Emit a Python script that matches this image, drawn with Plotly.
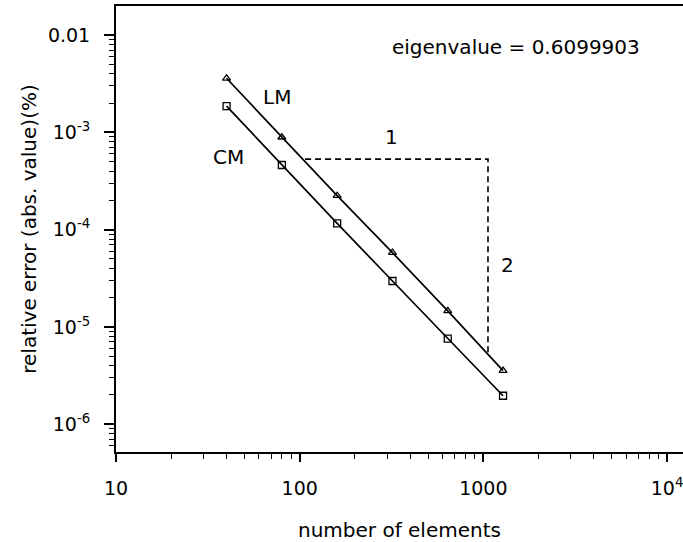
import math
import plotly.graph_objects as go

# Data
n_elements = [40, 80, 160, 320, 640, 1280]
err_lm = [3.59e-3, 8.89e-4, 2.23e-4, 5.79e-5, 1.46e-5, 3.55e-6]
err_cm = [1.86e-3, 4.61e-4, 1.16e-4, 2.96e-5, 7.57e-6, 1.96e-6]

slope_x = [107, 1060, 1060]
slope_y = [5.3e-4, 5.3e-4, 5.3e-6]

x_tickvals = [10, 100, 1000, 10000]
x_ticktext = ["10", "100", "1000", "10<sup>4</sup>"]
y_tickvals = [1e-2, 1e-3, 1e-4, 1e-5, 1e-6]
y_ticktext = ["0.01", "10<sup>-3</sup>", "10<sup>-4</sup>", "10<sup>-5</sup>", "10<sup>-6</sup>"]

# text labels: (text, x value, y value)
label_text = ["eigenvalue = 0.6099903", "LM", "CM", "1", "2"]
label_x = [1503, 75.2, 41.2, 318, 1361]
label_y = [7.53e-3, 2.31e-3, 5.57e-4, 8.95e-4, 4.33e-5]

FONT = "DejaVu Sans, Liberation Sans, Arial, sans-serif"

fig = go.Figure()

fig.add_trace(go.Scatter(
    x=n_elements, y=err_lm, mode="lines+markers", name="LM",
    line=dict(color="black", width=1.7),
    marker=dict(symbol="triangle-up-open", size=7, color="black", line=dict(width=1.3, color="black")),
))
fig.add_trace(go.Scatter(
    x=n_elements, y=err_cm, mode="lines+markers", name="CM",
    line=dict(color="black", width=1.7),
    marker=dict(symbol="square-open", size=7, color="black", line=dict(width=1.3, color="black")),
))
fig.add_trace(go.Scatter(
    x=slope_x, y=slope_y, mode="lines",
    line=dict(color="black", width=1.6, dash="6px,4px"),
))

fig.update_layout(
    width=683, height=542,
    margin=dict(l=116, r=0, t=6, b=90),
    paper_bgcolor="white", plot_bgcolor="white",
    showlegend=False,
    font=dict(family=FONT, size=19, color="black"),
    xaxis=dict(
        type="log", range=[1, 4.087],
        tickmode="array", tickvals=x_tickvals, ticktext=x_ticktext,
        ticks="outside", ticklen=8, tickwidth=1.5, tickcolor="black",
        showline=True, linecolor="black", linewidth=2, mirror=True,
        showgrid=False, zeroline=False, automargin=False,
        tickfont=dict(size=19),
        ticklabelstandoff=10,
        ticklabeloverflow="allow",
        minor=dict(ticks="outside", ticklen=5, tickwidth=1.3, tickcolor="black",
                   dtick="D1", showgrid=False),
        title=dict(text="number of elements", font=dict(size=20), standoff=26),
    ),
    yaxis=dict(
        type="log", range=[-6.286, -1.702],
        tickmode="array", tickvals=y_tickvals, ticktext=y_ticktext,
        ticks="outside", ticklen=10, tickwidth=1.5, tickcolor="black",
        showline=True, linecolor="black", linewidth=2, mirror=False,
        showgrid=False, zeroline=False, automargin=False,
        tickfont=dict(size=19),
        ticklabelstandoff=10,
        minor=dict(ticks="outside", ticklen=5, tickwidth=1.3, tickcolor="black",
                   dtick="D1", showgrid=False),
        title=dict(text="relative error (abs. value)(%)", font=dict(size=20), standoff=6),
    ),
)

for t, xv, yv in zip(label_text, label_x, label_y):
    fig.add_annotation(x=math.log10(xv), y=math.log10(yv), xref="x", yref="y",
                       text=t, showarrow=False, font=dict(size=20))

fig.write_html("out.html", config={"displayModeBar": False},
               post_script="document.body.style.margin='0';document.body.style.padding='0';")
